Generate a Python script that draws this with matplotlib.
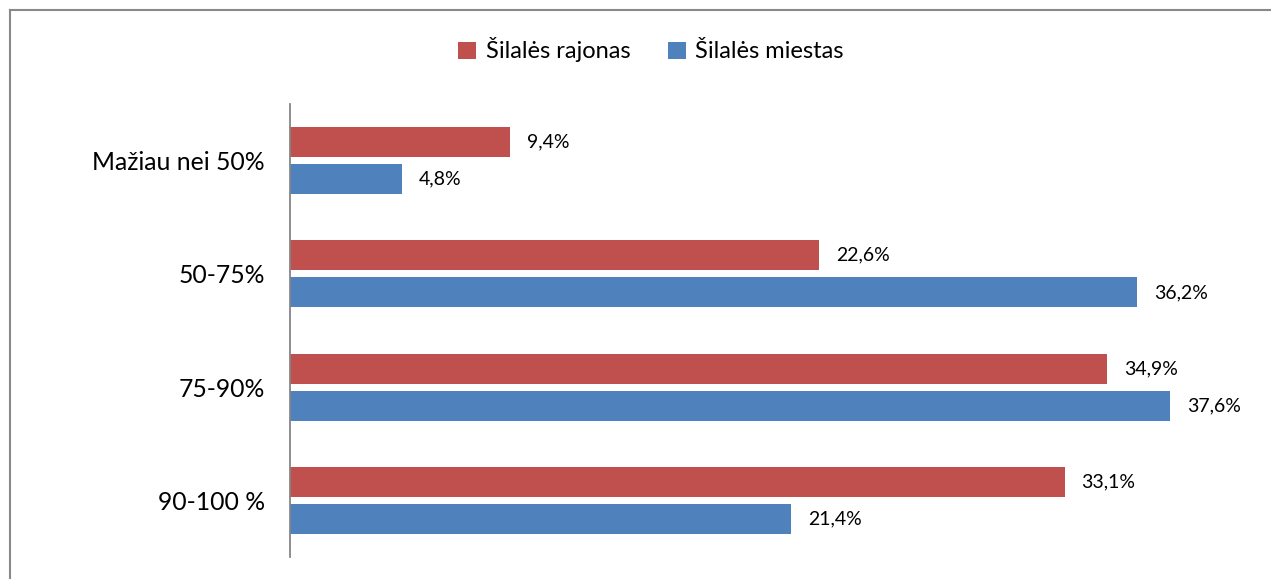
import numpy as np
import matplotlib.pyplot as plt
from matplotlib.lines import Line2D

plt.rcParams['font.family'] = ['Lato', 'DejaVu Sans']

categories = ["Mažiau nei 50%", "50-75%", "75-90%", "90-100 %"]
rajonas = [9.4, 22.6, 34.9, 33.1]
miestas = [4.8, 36.2, 37.6, 21.4]
series_names = ["Šilalės rajonas", "Šilalės miestas"]
red = '#C0504D'
blue = '#4F81BD'

fig = plt.figure(figsize=(12.71, 5.79), dpi=100)
ax = fig.add_axes([0.2279, 0.038, 0.7368, 0.7824])

y = np.arange(len(categories))
h = 0.265
off = 0.164
b1 = ax.barh(y - off, rajonas, height=h, color=red, label=series_names[0])
b2 = ax.barh(y + off, miestas, height=h, color=blue, label=series_names[1])

for bars, vals in [(b1, rajonas), (b2, miestas)]:
    for bar, v in zip(bars, vals):
        ax.annotate(f"{v:.1f}%".replace('.', ','),
                    xy=(bar.get_width(), bar.get_y() + bar.get_height() / 2),
                    xytext=(17, 0), textcoords='offset pixels',
                    ha='left', va='center', fontsize=14, color='black')

ax.set_xlim(0, 40)
ax.set_ylim(len(categories) - 0.5, -0.5)
ax.set_yticks(y)
ax.set_yticklabels(categories, fontsize=17.8)
ax.tick_params(axis='y', length=0, pad=18)
ax.set_xticks([])
for s in ['top', 'right', 'bottom']:
    ax.spines[s].set_visible(False)
ax.spines['left'].set_color('#868686')
ax.spines['left'].set_linewidth(1.3)

fig.legend(handles=[b1, b2], loc='center', bbox_to_anchor=(651 / 1271, 1 - 50 / 579),
           ncol=2, frameon=False, fontsize=17, handlelength=0.75, handleheight=0.75,
           handletextpad=0.4, columnspacing=1.6)

# chart border (left and top edges visible)
fig.add_artist(Line2D([10 / 1271, 10 / 1271], [0, 1 - 10 / 579], transform=fig.transFigure,
                      color='#898989', lw=1.5))
fig.add_artist(Line2D([10 / 1271, 1], [1 - 10 / 579, 1 - 10 / 579], transform=fig.transFigure,
                      color='#898989', lw=1.5))

fig.savefig('out.png', dpi=100)
